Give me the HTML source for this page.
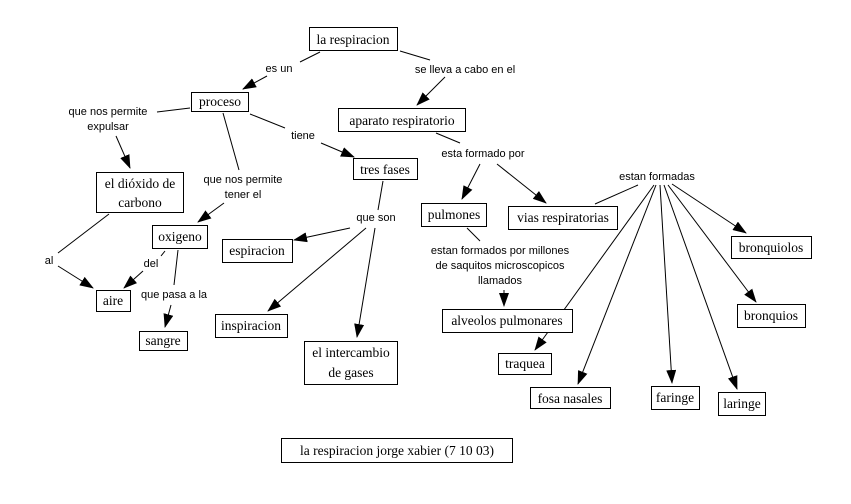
<!DOCTYPE html>
<html><head><meta charset="utf-8"><style>
body{margin:0;background:#fff}
svg{display:block}
.b{fill:#fff;stroke:#000;stroke-width:1}
.t{font-family:"Liberation Serif",serif;font-size:13.5px;fill:#000;text-anchor:middle}
.l{font-family:"Liberation Sans",sans-serif;font-size:11px;fill:#000;text-anchor:middle}
line{stroke:#000;stroke-width:1}
</style></head><body>
<svg width="851" height="504" viewBox="0 0 851 504" xmlns="http://www.w3.org/2000/svg">
<defs><marker id="a" markerWidth="14" markerHeight="10" refX="13" refY="5" orient="auto" markerUnits="userSpaceOnUse"><path d="M0,0 L14,5 L0,10 z" fill="#000"/></marker></defs>
<g>
<line x1="320" y1="52" x2="300" y2="62"/><line x1="267" y1="76" x2="243" y2="89" marker-end="url(#a)"/>
<line x1="400" y1="51" x2="430" y2="60"/><line x1="445" y1="77" x2="417" y2="105" marker-end="url(#a)"/>
<line x1="190" y1="108" x2="157" y2="112"/><line x1="116" y1="136" x2="130" y2="168" marker-end="url(#a)"/>
<line x1="223" y1="113" x2="239" y2="170"/><line x1="224" y1="203" x2="198" y2="222" marker-end="url(#a)"/>
<line x1="250" y1="114" x2="285" y2="128"/><line x1="321" y1="143" x2="354" y2="157" marker-end="url(#a)"/>
<line x1="436" y1="133" x2="460" y2="143"/><line x1="480" y1="164" x2="462" y2="199" marker-end="url(#a)"/><line x1="497" y1="164" x2="546" y2="203" marker-end="url(#a)"/>
<line x1="383" y1="181" x2="378" y2="210"/><line x1="350" y1="228" x2="294" y2="240" marker-end="url(#a)"/><line x1="366" y1="228" x2="268" y2="311" marker-end="url(#a)"/><line x1="375" y1="228" x2="357" y2="337" marker-end="url(#a)"/>
<line x1="109" y1="214" x2="58" y2="253"/><line x1="58" y1="266" x2="93" y2="288" marker-end="url(#a)"/>
<line x1="165" y1="251" x2="161" y2="256"/><line x1="143" y1="271" x2="124" y2="288" marker-end="url(#a)"/>
<line x1="178" y1="250" x2="174" y2="285"/><line x1="171" y1="305" x2="165" y2="327" marker-end="url(#a)"/>
<line x1="467" y1="228" x2="480" y2="241"/><line x1="504" y1="290" x2="504" y2="306" marker-end="url(#a)"/>
<line x1="595" y1="204" x2="638" y2="185"/>
<line x1="654" y1="185" x2="535" y2="350" marker-end="url(#a)"/>
<line x1="656" y1="185" x2="578" y2="384" marker-end="url(#a)"/>
<line x1="660" y1="185" x2="672" y2="383" marker-end="url(#a)"/>
<line x1="664" y1="185" x2="737" y2="389" marker-end="url(#a)"/>
<line x1="668" y1="185" x2="756" y2="302" marker-end="url(#a)"/>
<line x1="672" y1="184" x2="746" y2="233" marker-end="url(#a)"/>
</g>
<g>
<rect class="b" x="309.5" y="27.5" width="88" height="23"/><text class="t" x="353" y="44">la respiracion</text>
<rect class="b" x="191.5" y="92.5" width="57" height="19"/><text class="t" x="220" y="106">proceso</text>
<rect class="b" x="338.5" y="108.5" width="127" height="23"/><text class="t" x="402" y="125">aparato respiratorio</text>
<rect class="b" x="353.5" y="158.5" width="64" height="21"/><text class="t" x="385" y="174">tres fases</text>
<rect class="b" x="96.5" y="172.5" width="87" height="40"/><text class="t" x="140" y="188">el dióxido de</text><text class="t" x="140" y="207">carbono</text>
<rect class="b" x="152.5" y="225.5" width="55" height="23"/><text class="t" x="180" y="241">oxigeno</text>
<rect class="b" x="222.5" y="239.5" width="70" height="23"/><text class="t" x="257" y="255">espiracion</text>
<rect class="b" x="96.5" y="290.5" width="34" height="21"/><text class="t" x="113" y="305">aire</text>
<rect class="b" x="139.5" y="331.5" width="48" height="19"/><text class="t" x="163" y="345">sangre</text>
<rect class="b" x="215.5" y="314.5" width="72" height="23"/><text class="t" x="251" y="330">inspiracion</text>
<rect class="b" x="304.5" y="341.5" width="93" height="43"/><text class="t" x="351" y="357">el intercambio</text><text class="t" x="351" y="377">de gases</text>
<rect class="b" x="421.5" y="203.5" width="65" height="23"/><text class="t" x="454" y="219">pulmones</text>
<rect class="b" x="508.5" y="206.5" width="109" height="23"/><text class="t" x="563" y="222">vias respiratorias</text>
<rect class="b" x="731.5" y="236.5" width="80" height="22"/><text class="t" x="771" y="252">bronquiolos</text>
<rect class="b" x="737.5" y="304.5" width="68" height="23"/><text class="t" x="771" y="320">bronquios</text>
<rect class="b" x="442.5" y="309.5" width="130" height="23"/><text class="t" x="507" y="325">alveolos pulmonares</text>
<rect class="b" x="498.5" y="353.5" width="53" height="21"/><text class="t" x="525" y="368">traquea</text>
<rect class="b" x="530.5" y="387.5" width="80" height="21"/><text class="t" x="570" y="403">fosa nasales</text>
<rect class="b" x="651.5" y="386.5" width="48" height="23"/><text class="t" x="675" y="402">faringe</text>
<rect class="b" x="718.5" y="392.5" width="47" height="23"/><text class="t" x="742" y="408">laringe</text>
<rect class="b" x="281.5" y="438.5" width="231" height="24"/><text class="t" x="397" y="455">la respiracion jorge xabier (7 10 03)</text>
</g>
<g>
<text class="l" x="279" y="72">es un</text>
<text class="l" x="465" y="73">se lleva a cabo en el</text>
<text class="l" x="108" y="115">que nos permite</text><text class="l" x="108" y="130">expulsar</text>
<text class="l" x="303" y="139">tiene</text>
<text class="l" x="243" y="183">que nos permite</text><text class="l" x="243" y="198">tener el</text>
<text class="l" x="483" y="157">esta formado por</text>
<text class="l" x="657" y="180">estan formadas</text>
<text class="l" x="376" y="221">que son</text>
<text class="l" x="500" y="254">estan formados por millones</text>
<text class="l" x="500" y="269">de saquitos microscopicos</text>
<text class="l" x="500" y="284">llamados</text>
<text class="l" x="49" y="264">al</text>
<text class="l" x="151" y="267">del</text>
<text class="l" x="174" y="298">que pasa a la</text>
</g>
</svg>
</body></html>
